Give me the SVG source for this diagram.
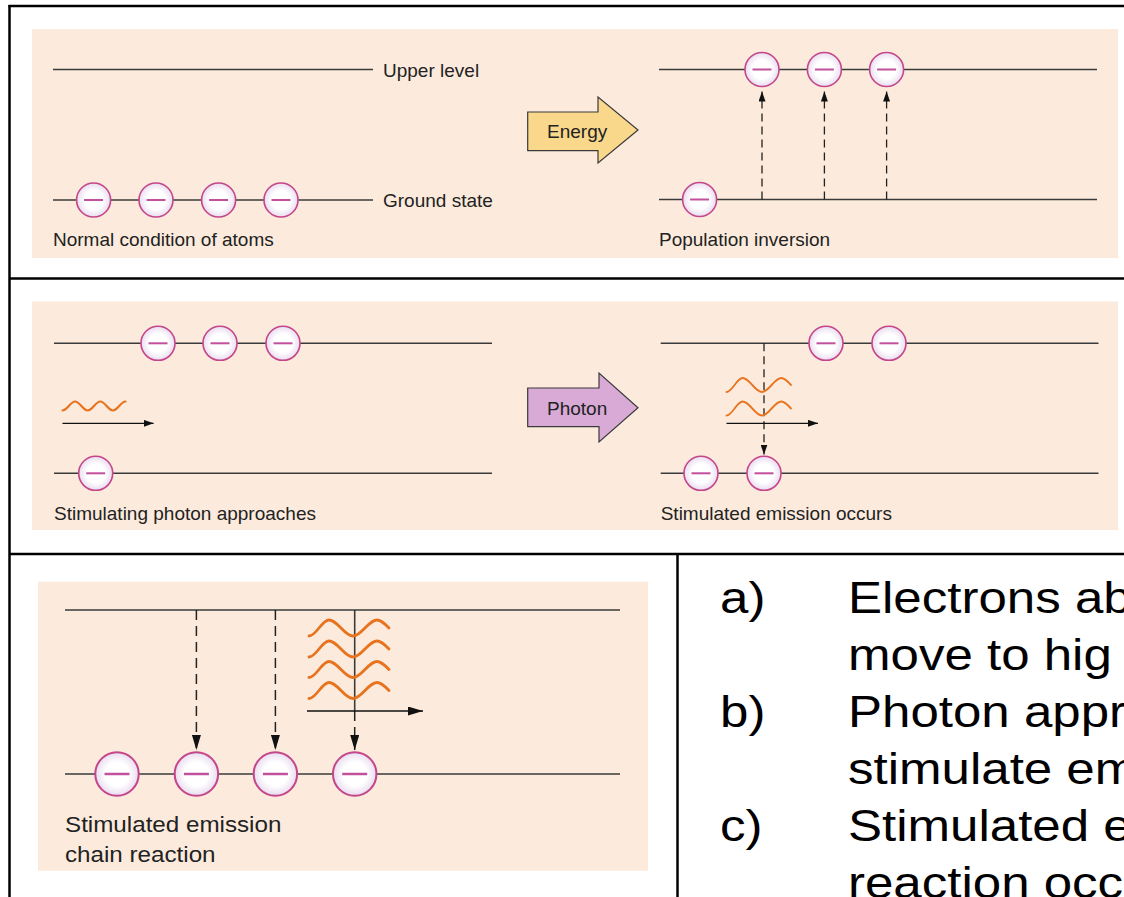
<svg xmlns="http://www.w3.org/2000/svg" width="1124" height="897" viewBox="0 0 1124 897">
<defs>
<style>
.bg{fill:#fcebdc}
.lv{stroke:#3a3a3a;stroke-width:1.6;fill:none}
.bd{stroke:#000;stroke-width:2.5;fill:none}
.ds{stroke:#222;stroke-width:1.3;stroke-dasharray:8 5;fill:none}
.dsL{stroke:#222;stroke-width:1.5;stroke-dasharray:10 6;fill:none}
.ar{stroke:#111;stroke-width:1.3;fill:none}
.arL{stroke:#111;stroke-width:1.6;fill:none}
.wv{stroke:#e8731f;stroke-width:2.2;fill:none;stroke-linecap:round}
.wvL{stroke:#e8731f;stroke-width:2.8;fill:none;stroke-linecap:round}
.lb{font-family:"Liberation Sans",Arial,sans-serif;font-size:19px;fill:#222}
.lb3{font-family:"Liberation Sans",Arial,sans-serif;font-size:22px;fill:#222}
.big{font-family:"Liberation Sans",Arial,sans-serif;font-size:44px;fill:#000}
.tag{stroke:#3a3a3a;stroke-width:1.2}
</style>
<radialGradient id="g" cx="0.5" cy="0.5" r="0.5"><stop offset="0.55" stop-color="#ffffff"/><stop offset="1" stop-color="#e9dcef"/></radialGradient>
<g id="el"><circle r="17" fill="url(#g)" stroke="#c4468b" stroke-width="1.6"/><line x1="-9.5" y1="0" x2="9.5" y2="0" stroke="#c2509c" stroke-width="2"/></g>
<g id="elL"><circle r="21.7" fill="url(#g)" stroke="#c4468b" stroke-width="2"/><line x1="-12.5" y1="0" x2="12.5" y2="0" stroke="#c2509c" stroke-width="2.5"/></g>
<marker id="ah" markerUnits="userSpaceOnUse" viewBox="0 0 10 7" markerWidth="10" markerHeight="7" refX="10" refY="3.5" orient="auto"><path d="M0,0 L10,3.5 L0,7 z" fill="#111"/></marker>
<marker id="ahL" markerUnits="userSpaceOnUse" viewBox="0 0 15 9" markerWidth="15" markerHeight="9" refX="15" refY="4.5" orient="auto"><path d="M0,0 L15,4.5 L0,9 z" fill="#111"/></marker>
<path id="wave" d="M0,8 C7.3,8 12.7,-8 20,-8 C28.7,-8 35.3,8 44,8 C52.7,8 59.3,-8 68,-8 C72.3,-8 76.1,-4.1 80,0"/>
</defs>

<rect width="1124" height="897" fill="#ffffff"/>

<g id="table">
<line class="bd" x1="8.5" y1="6" x2="1124" y2="6"/>
<line class="bd" x1="9.5" y1="5" x2="9.5" y2="897"/>
<line class="bd" x1="9" y1="278.5" x2="1124" y2="278.5"/>
<line class="bd" x1="9" y1="554" x2="1124" y2="554"/>
<line class="bd" x1="677.5" y1="554" x2="677.5" y2="897"/>
</g>

<g id="panel-a">
<rect class="bg" x="32" y="29" width="1086" height="229"/>
<line class="lv" x1="53" y1="69.5" x2="373" y2="69.5"/>
<line class="lv" x1="53" y1="200" x2="373" y2="200"/>
<text class="lb" x="383" y="76.5">Upper level</text>
<text class="lb" x="383" y="207">Ground state</text>
<text class="lb" x="53" y="246">Normal condition of atoms</text>
<use id="a-e1" href="#el" x="93.6" y="200"/>
<use id="a-e2" href="#el" x="156" y="200"/>
<use id="a-e3" href="#el" x="218.6" y="200"/>
<use id="a-e4" href="#el" x="281" y="200"/>
<g id="energy-arrow">
<polygon class="tag" points="527.7,112 598,112 598,97 638,130 598,163 598,150.7 527.7,150.7" fill="#f9d88c"/>
<text class="lb" x="547" y="138">Energy</text>
</g>
<line class="lv" x1="659" y1="69.5" x2="1097" y2="69.5"/>
<line class="lv" x1="659" y1="199.5" x2="1097" y2="199.5"/>
<text class="lb" x="659" y="246">Population inversion</text>
</g>

<g id="panel-b">
<rect class="bg" x="32" y="301.5" width="1086" height="228.5"/>
<line class="lv" x1="54" y1="343.3" x2="492" y2="343.3"/>
<line class="lv" x1="54" y1="473.3" x2="492" y2="473.3"/>
<text class="lb" x="54" y="519.5">Stimulating photon approaches</text>
<use id="b-e1" href="#el" x="158" y="343.3"/>
<use id="b-e2" href="#el" x="220" y="343.3"/>
<use id="b-e3" href="#el" x="283" y="343.3"/>
<use id="b-e4" href="#el" x="95.7" y="473.3"/>
<g id="photon-arrow">
<polygon class="tag" points="527.7,388 599,388 599,373 638,407.7 599,442 599,426.7 527.7,426.7" fill="#d9aad6"/>
<text class="lb" x="547" y="415">Photon</text>
</g>
<line class="lv" x1="660.7" y1="343.3" x2="1098.5" y2="343.3"/>
<line class="lv" x1="660.7" y1="473.3" x2="1098.5" y2="473.3"/>
<text class="lb" x="660.7" y="519.5">Stimulated emission occurs</text>
</g>

<g id="panel-c">
<rect class="bg" x="38" y="581.7" width="610" height="289"/>
<line class="lv" x1="65" y1="610" x2="620" y2="610"/>
<line class="lv" x1="65" y1="774" x2="620" y2="774"/>
<text class="lb3" transform="translate(65,831.5) scale(1.1,1)">Stimulated emission</text>
<text class="lb3" transform="translate(65,861.5) scale(1.1,1)">chain reaction</text>
</g>

<g id="connectors">
<line class="ds" x1="762" y1="199.5" x2="762" y2="91.5" marker-end="url(#ah)"/>
<line class="ds" x1="824.4" y1="199.5" x2="824.4" y2="91.5" marker-end="url(#ah)"/>
<line class="ds" x1="886.6" y1="199.5" x2="886.6" y2="91.5" marker-end="url(#ah)"/>
<line class="ar" x1="62.5" y1="423.3" x2="153.6" y2="423.3" marker-end="url(#ah)"/>
<line class="ds" x1="764" y1="343.3" x2="764" y2="454.5" marker-end="url(#ah)"/>
<line class="ar" x1="726.5" y1="423.3" x2="818" y2="423.3" marker-end="url(#ah)"/>
<line class="dsL" x1="196.4" y1="610" x2="196.4" y2="750" marker-end="url(#ahL)"/>
<line class="dsL" x1="275.4" y1="610" x2="275.4" y2="750" marker-end="url(#ahL)"/>
<line class="lv" x1="354.7" y1="610" x2="354.7" y2="711"/>
<line class="dsL" x1="354.7" y1="711" x2="354.7" y2="750" marker-end="url(#ahL)"/>
<line class="arL" x1="307" y1="711" x2="423" y2="711" marker-end="url(#ahL)"/>
</g>

<g id="photons">
<path class="wv" d="M62.5,410.5 C67.1,410.5 70.5,401.5 75.1,401.5 S83.1,410.5 87.7,410.5 S95.7,401.5 100.3,401.5 S108.3,410.5 112.9,410.5 S120.9,401.5 125.5,401.5"/>
<use class="wv" href="#wave" transform="translate(726.5,385) scale(0.806,0.875)"/>
<use class="wv" href="#wave" transform="translate(726.5,408.5) scale(0.806,0.875)"/>
<use class="wvL" href="#wave" transform="translate(309,628)"/>
<use class="wvL" href="#wave" transform="translate(309,649)"/>
<use class="wvL" href="#wave" transform="translate(309,669.5)"/>
<use class="wvL" href="#wave" transform="translate(309,690.5)"/>
</g>

<g id="electrons-top">
<use id="a-e5" href="#el" x="762" y="69.5"/>
<use id="a-e6" href="#el" x="824.4" y="69.5"/>
<use id="a-e7" href="#el" x="886.6" y="69.5"/>
<use id="a-e8" href="#el" x="699.6" y="199.5"/>
<use id="b-e5" href="#el" x="826" y="343.3"/>
<use id="b-e6" href="#el" x="889" y="343.3"/>
<use id="b-e7" href="#el" x="701" y="473.3"/>
<use id="b-e8" href="#el" x="764" y="473.3"/>
<use id="c-e1" href="#elL" x="117" y="774"/>
<use id="c-e2" href="#elL" x="196.4" y="774"/>
<use id="c-e3" href="#elL" x="275.4" y="774"/>
<use id="c-e4" href="#elL" x="354.7" y="774"/>
</g>

<g id="legend">
<text class="big" transform="translate(720,613) scale(1.16,1)">a)</text>
<text class="big" transform="translate(848,613) scale(1.16,1)">Electrons ab</text>
<text class="big" transform="translate(848,670) scale(1.16,1)">move to hig</text>
<text class="big" transform="translate(720,727) scale(1.16,1)">b)</text>
<text class="big" transform="translate(848,727) scale(1.16,1)">Photon appr</text>
<text class="big" transform="translate(848,784) scale(1.16,1)">stimulate em</text>
<text class="big" transform="translate(720,841) scale(1.16,1)">c)</text>
<text class="big" transform="translate(848,841) scale(1.16,1)">Stimulated e</text>
<text class="big" transform="translate(848,898) scale(1.16,1)">reaction occ</text>
</g>
</svg>
